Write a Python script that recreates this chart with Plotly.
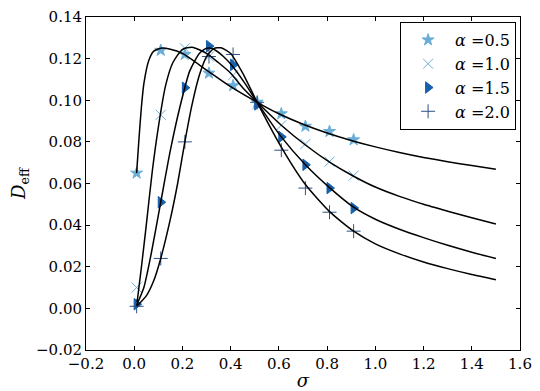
import plotly.graph_objects as go

# Sampled (marker) data
sigma_pts = [0.01, 0.11, 0.21, 0.31, 0.41, 0.51, 0.61, 0.71, 0.81, 0.91]
d_a05 = [0.065, 0.124, 0.122, 0.113, 0.107, 0.099, 0.0935, 0.0875, 0.085, 0.081]
d_a10 = [0.010, 0.093, 0.125, 0.121, 0.112, 0.098, 0.088, 0.079, 0.0705, 0.0638]
d_a15 = [0.002, 0.051, 0.106, 0.126, 0.117, 0.098, 0.0824, 0.069, 0.0578, 0.0482]
d_a20 = [0.001, 0.024, 0.080, 0.121, 0.122, 0.099, 0.076, 0.0578, 0.0462, 0.0371]

# Theory curves
c05_s = [0.01, 0.02, 0.03, 0.04, 0.06, 0.08, 0.11, 0.15, 0.2, 0.3, 0.4, 0.51, 0.6, 0.7, 0.8, 0.9, 1.0, 1.1, 1.2, 1.3, 1.4, 1.5]
c05_d = [0.065, 0.082, 0.097, 0.108, 0.119, 0.1235, 0.125, 0.1245, 0.1225, 0.1145, 0.1065, 0.099, 0.0935, 0.0885, 0.0843, 0.0807, 0.0776, 0.0749, 0.0725, 0.0705, 0.0686, 0.0668]
c10_s = [0.012, 0.03, 0.05, 0.075, 0.1, 0.13, 0.16, 0.2, 0.24, 0.3, 0.35, 0.4, 0.45, 0.51, 0.61, 0.71, 0.81, 0.91, 1.0, 1.1, 1.2, 1.3, 1.4, 1.5]
c10_d = [0.003, 0.020, 0.040, 0.066, 0.087, 0.107, 0.118, 0.1245, 0.1255, 0.1225, 0.118, 0.113, 0.106, 0.099, 0.088, 0.0785, 0.0703, 0.0635, 0.0583, 0.0538, 0.0500, 0.0467, 0.0435, 0.0405]
c15_s = [0.01, 0.04, 0.07, 0.11, 0.15, 0.19, 0.23, 0.27, 0.3, 0.33, 0.37, 0.41, 0.46, 0.51, 0.61, 0.71, 0.81, 0.91, 1.0, 1.1, 1.2, 1.3, 1.4, 1.5]
c15_d = [0.0015, 0.010, 0.026, 0.051, 0.076, 0.097, 0.114, 0.1225, 0.125, 0.1245, 0.121, 0.116, 0.108, 0.099, 0.0824, 0.069, 0.058, 0.0486, 0.0428, 0.0380, 0.0340, 0.0303, 0.0270, 0.0240]
c20_s = [0.01, 0.05, 0.08, 0.11, 0.15, 0.18, 0.21, 0.24, 0.27, 0.3, 0.33, 0.36, 0.4, 0.45, 0.51, 0.61, 0.71, 0.81, 0.91, 1.0, 1.1, 1.2, 1.3, 1.4, 1.5]
c20_d = [0.001, 0.006, 0.013, 0.024, 0.043, 0.060, 0.080, 0.098, 0.112, 0.121, 0.1248, 0.1252, 0.1225, 0.113, 0.099, 0.0775, 0.0595, 0.0465, 0.0371, 0.0310, 0.0262, 0.0223, 0.0191, 0.0163, 0.0138]

x_tickvals = [-0.2, 0.0, 0.2, 0.4, 0.6, 0.8, 1.0, 1.2, 1.4, 1.6]
x_ticktext = ["\u22120.2", "0.0", "0.2", "0.4", "0.6", "0.8", "1.0", "1.2", "1.4", "1.6"]
y_tickvals = [-0.02, 0.0, 0.02, 0.04, 0.06, 0.08, 0.10, 0.12, 0.14]
y_ticktext = ["\u22120.02", "0.00", "0.02", "0.04", "0.06", "0.08", "0.10", "0.12", "0.14"]

FONT = "DejaVu Serif"

fig = go.Figure()

series = [
    ("<i>α</i> =0.5", d_a05, "star", "#6aaed8", 9),
    ("<i>α</i> =1.0", d_a10, "x-thin-open", "#6aaed8", 10),
    ("<i>α</i> =1.5", d_a15, "triangle-right", "#1660ac", 10),
    ("<i>α</i> =2.0", d_a20, "cross-thin-open", "#2d5285", 10),
]
for name, vals, sym, col, sz in series:
    fig.add_trace(go.Scatter(
        x=sigma_pts, y=vals, mode="markers", name=name,
        marker=dict(symbol=sym, size=sz, color=col,
                    line=dict(color=col, width=1)),
    ))

for cs, cd in [(c05_s, c05_d), (c10_s, c10_d), (c15_s, c15_d), (c20_s, c20_d)]:
    fig.add_trace(go.Scatter(
        x=cs, y=cd, mode="lines", showlegend=False,
        line=dict(color="black", width=1.5, shape="spline", smoothing=0.6),
    ))

axis_common = dict(
    showgrid=False, zeroline=False, showline=True, linecolor="black", linewidth=1,
    mirror="allticks", ticks="inside", ticklen=4, tickcolor="black",
    tickfont=dict(family=FONT, size=15, color="black"), automargin=False,
    ticklabeloverflow="allow",
)
fig.update_xaxes(range=[-0.2, 1.6], tickvals=x_tickvals, ticktext=x_ticktext,
                 title=dict(text="<i>σ</i>", font=dict(family=FONT, size=18, color="black"), standoff=2),
                 **axis_common)
fig.update_yaxes(range=[-0.02, 0.14], tickvals=y_tickvals, ticktext=y_ticktext,
                 title=dict(text="<i>D</i><sub>eff</sub>", font=dict(family=FONT, size=18, color="black"), standoff=8),
                 **axis_common)

# page body has an 8px margin, so the figure is sized/offset to fit the 540x391 window
fig.update_layout(
    width=532, height=383,
    margin=dict(l=78, r=20, t=9, b=41, autoexpand=False),
    paper_bgcolor="white", plot_bgcolor="white",
    showlegend=True,
    legend=dict(x=0.991, y=0.985, xanchor="right", yanchor="top",
                bgcolor="white", bordercolor="black", borderwidth=1,
                font=dict(family=FONT, size=16, color="black"),
                itemwidth=44, tracegroupgap=0),
)

fig.write_html("out.html")
